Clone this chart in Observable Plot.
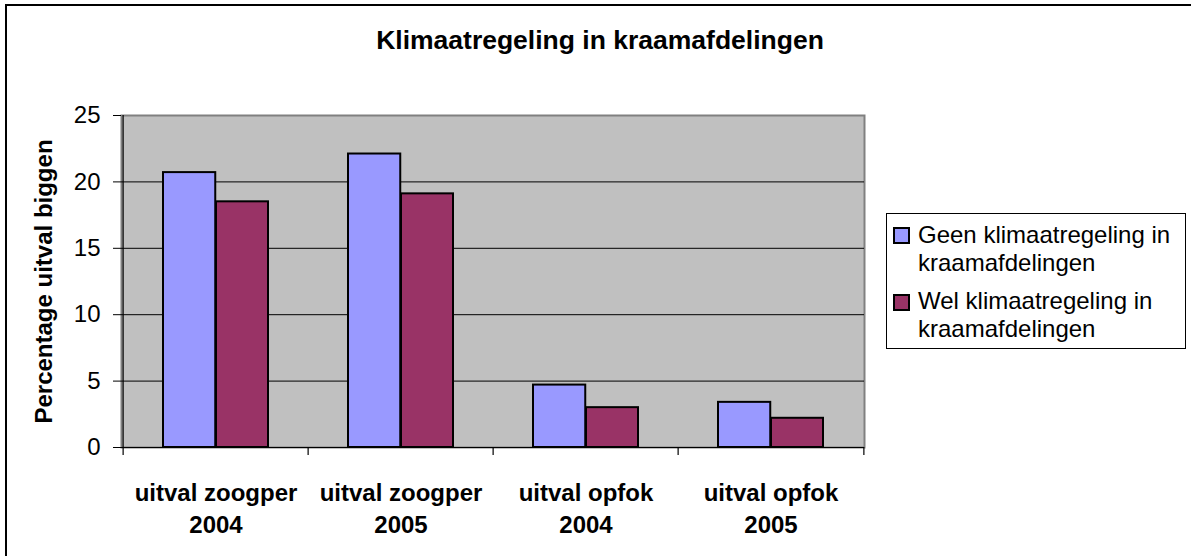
<!DOCTYPE html>
<html>
<head>
<meta charset="utf-8">
<script src="https://cdn.jsdelivr.net/npm/d3@7"></script>
<script src="https://cdn.jsdelivr.net/npm/@observablehq/plot@0.6"></script>
<style>
  html, body { margin: 0; padding: 0; background: #fff; overflow: hidden; }
  body { font-family: Arial, "Liberation Sans", sans-serif; }
  #wrap { position: relative; width: 1191px; height: 556px; overflow: hidden; background: #fff; }
  #outer { position: absolute; left: 5px; top: 4px; width: 1400px; height: 800px; border-left: 2px solid #000; border-top: 2px solid #000; }
  #title { position: absolute; left: 0; top: 26.6px; width: 1200px; text-align: center; font-weight: bold; font-size: 26.5px; line-height: 26.5px; color: #000; }
  #legend { position: absolute; left: 886px; top: 213px; width: 300px; height: 136px; box-sizing: border-box; border: 1px solid #000; background: #fff; }
  .sw { position: absolute; left: 6px; width: 17px; height: 17px; box-sizing: border-box; border: 2px solid #000; }
  .lt { position: absolute; left: 31px; width: 264px; font-size: 24px; line-height: 27.7px; color: #000; }
  #chart { position: absolute; left: 0; top: 0; }
</style>
</head>
<body>
<div id="wrap">
  <div id="chart"></div>
  <div id="outer"></div>
  <div id="title"></div>
  <div id="legend"></div>
</div>
<script>
const title = "Klimaatregeling in kraamafdelingen";
const yLabel = "Percentage uitval biggen";
const categories = ["uitval zoogper\n2004", "uitval zoogper\n2005", "uitval opfok\n2004", "uitval opfok\n2005"];
const seriesNames = ["Geen klimaatregeling in kraamafdelingen", "Wel klimaatregeling in kraamafdelingen"];
const geenValues = [20.7, 22.1, 4.7, 3.4];
const welValues = [18.5, 19.1, 3.0, 2.2];
const yTicks = [0, 5, 10, 15, 20, 25];
const gridValues = [5, 10, 15, 20];
const colors = ["#9999ff", "#993366"];

const W = 1191, H = 556;
const mL = 121, mR = 327, mT = 115, mB = 109;
const bw = (W - mL - mR) / categories.length;

const geenData = categories.map((c, i) => ({category: c, value: geenValues[i]}));
const welData = categories.map((c, i) => ({category: c, value: welValues[i]}));

const font = 'Arial, "Liberation Sans", sans-serif';

const plot = Plot.plot({
  width: W,
  height: H,
  marginLeft: mL,
  marginRight: mR,
  marginTop: mT,
  marginBottom: mB,
  style: {fontFamily: font, fontSize: "24px", background: "transparent", color: "#000"},
  x: {type: "band", domain: categories, padding: 0, axis: null},
  y: {domain: [0, 25], axis: null},
  marks: [
    Plot.frame({fill: "#c0c0c0", stroke: "#808080", strokeWidth: 2}),
    Plot.ruleY(gridValues, {stroke: "#000", strokeWidth: 1}),
    Plot.barY(geenData, {x: "category", y: "value", fill: colors[0], stroke: "#000", strokeWidth: 2, insetLeft: 40, insetRight: bw - 93}),
    Plot.barY(welData, {x: "category", y: "value", fill: colors[1], stroke: "#000", strokeWidth: 2, insetLeft: 93, insetRight: 40}),
    Plot.ruleY([0], {stroke: "#000", strokeWidth: 1.2}),
    Plot.ruleX([categories[0]], {x: d => d, dx: -bw / 2, stroke: "#000", strokeWidth: 1.2}),
    Plot.ruleX(categories, {x: d => d, dx: -bw / 2, stroke: "#000", strokeWidth: 1.2, insetTop: H - mT - mB, insetBottom: -8}),
    Plot.ruleX([categories[categories.length - 1]], {x: d => d, dx: bw / 2, stroke: "#000", strokeWidth: 1.2, insetTop: H - mT - mB, insetBottom: -8}),
    Plot.axisY({ticks: yTicks, tickSize: 8, tickPadding: 13, fontSize: 24, label: null, tickFormat: d => String(d)}),
    Plot.text(categories, {x: d => d, text: d => d, frameAnchor: "bottom", lineAnchor: "top", dy: 31, fontSize: 24, fontWeight: "bold", lineHeight: 1.32, fill: "#000"}),
    Plot.text([yLabel], {text: d => d, frameAnchor: "left", dx: -77, rotate: -90, fontSize: 24, fontWeight: "bold", textAnchor: "middle", lineAnchor: "middle", fill: "#000"})
  ]
});
document.getElementById("chart").appendChild(plot);

document.getElementById("title").textContent = title;

const legend = document.getElementById("legend");
const swTops = [13, 80];
const textTops = [6.8, 72.8];
seriesNames.forEach((name, i) => {
  const sw = document.createElement("div");
  sw.className = "sw";
  sw.style.top = swTops[i] + "px";
  sw.style.background = colors[i];
  legend.appendChild(sw);
  const t = document.createElement("div");
  t.className = "lt";
  t.style.top = textTops[i] + "px";
  t.textContent = name;
  legend.appendChild(t);
});
</script>
</body>
</html>
